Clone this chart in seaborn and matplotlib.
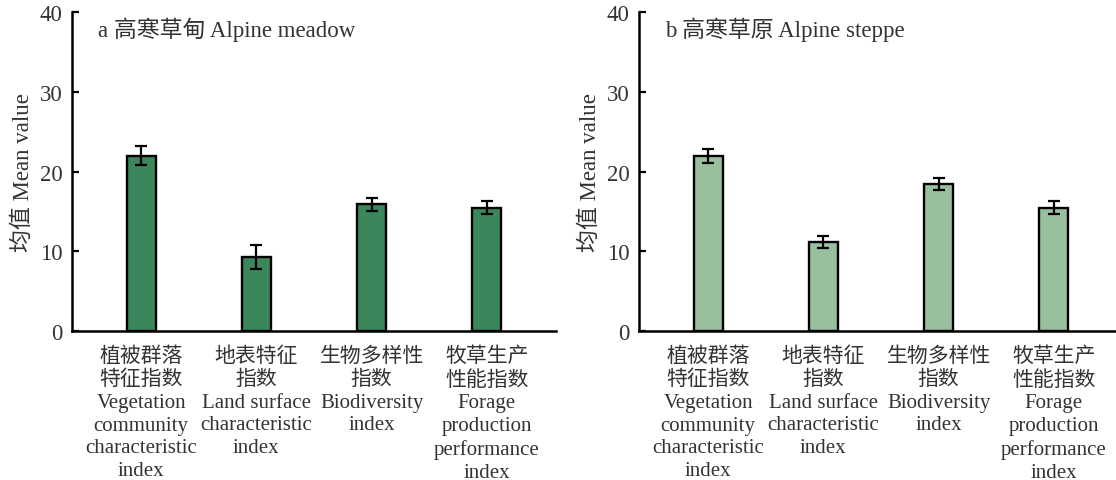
import matplotlib
matplotlib.use("Agg")
import matplotlib.pyplot as plt
import seaborn as sns
import pandas as pd

categories = [
    "植被群落\n特征指数\nVegetation\ncommunity\ncharacteristic\nindex",
    "地表特征\n指数\nLand surface\ncharacteristic\nindex",
    "生物多样性\n指数\nBiodiversity\nindex",
    "牧草生产\n性能指数\nForage\nproduction\nperformance\nindex",
]
meadow_mean = [22.0, 9.25, 15.9, 15.5]
meadow_err = [1.2, 1.5, 0.8, 0.85]
steppe_mean = [22.0, 11.15, 18.45, 15.5]
steppe_err = [0.85, 0.8, 0.7, 0.85]
titles = ["a 高寒草甸 Alpine meadow", "b 高寒草原 Alpine steppe"]
colors = ["#3b865a", "#98c09f"]

sns.set_theme(style="ticks")
plt.rcParams["font.family"] = ["Liberation Serif", "Noto Sans CJK SC", "DejaVu Sans"]
plt.rcParams["font.size"] = 15
text_color = "#333333"

fig = plt.figure(figsize=(11.16, 4.81), dpi=100)
ax_a = fig.add_axes([0.0645, 0.31, 0.4337, 0.662])
ax_b = fig.add_axes([0.5726, 0.31, 0.4337, 0.662])

panels = [
    (ax_a, meadow_mean, meadow_err, titles[0], colors[0]),
    (ax_b, steppe_mean, steppe_err, titles[1], colors[1]),
]

for ax, means, errs, title, col in panels:
    df = pd.DataFrame({"cat": categories, "mean": means})
    sns.barplot(data=df, x="cat", y="mean", ax=ax, color=col, width=0.25,
                edgecolor="black", linewidth=1.7, saturation=1, errorbar=None)
    ax.errorbar(range(len(means)), means, yerr=errs, fmt="none",
                ecolor="black", elinewidth=1.6, capsize=4, capthick=1.6)
    ax.set_ylim(0, 40)
    ax.set_xlim(-0.6, 3.6)
    ax.set_yticks([0, 10, 20, 30, 40])
    ax.set_xlabel("")
    ax.set_ylabel("均值 Mean value", fontsize=16.5, color=text_color, labelpad=4)
    ax.tick_params(axis="y", labelsize=16.5, colors="black", labelcolor=text_color,
                   length=5, width=1.6, direction="in", pad=7)
    ax.tick_params(axis="x", length=0, labelsize=15, labelcolor=text_color, pad=11)
    for lbl in ax.get_xticklabels():
        lbl.set_linespacing(1.27)
    sns.despine(ax=ax)
    for s in ["left", "bottom"]:
        ax.spines[s].set_linewidth(1.8)
        ax.spines[s].set_color("black")
    ax.text(0.054, 0.95, title, transform=ax.transAxes, fontsize=16.5,
            color=text_color, va="center", ha="left")

fig.savefig("out.png", dpi=100)
